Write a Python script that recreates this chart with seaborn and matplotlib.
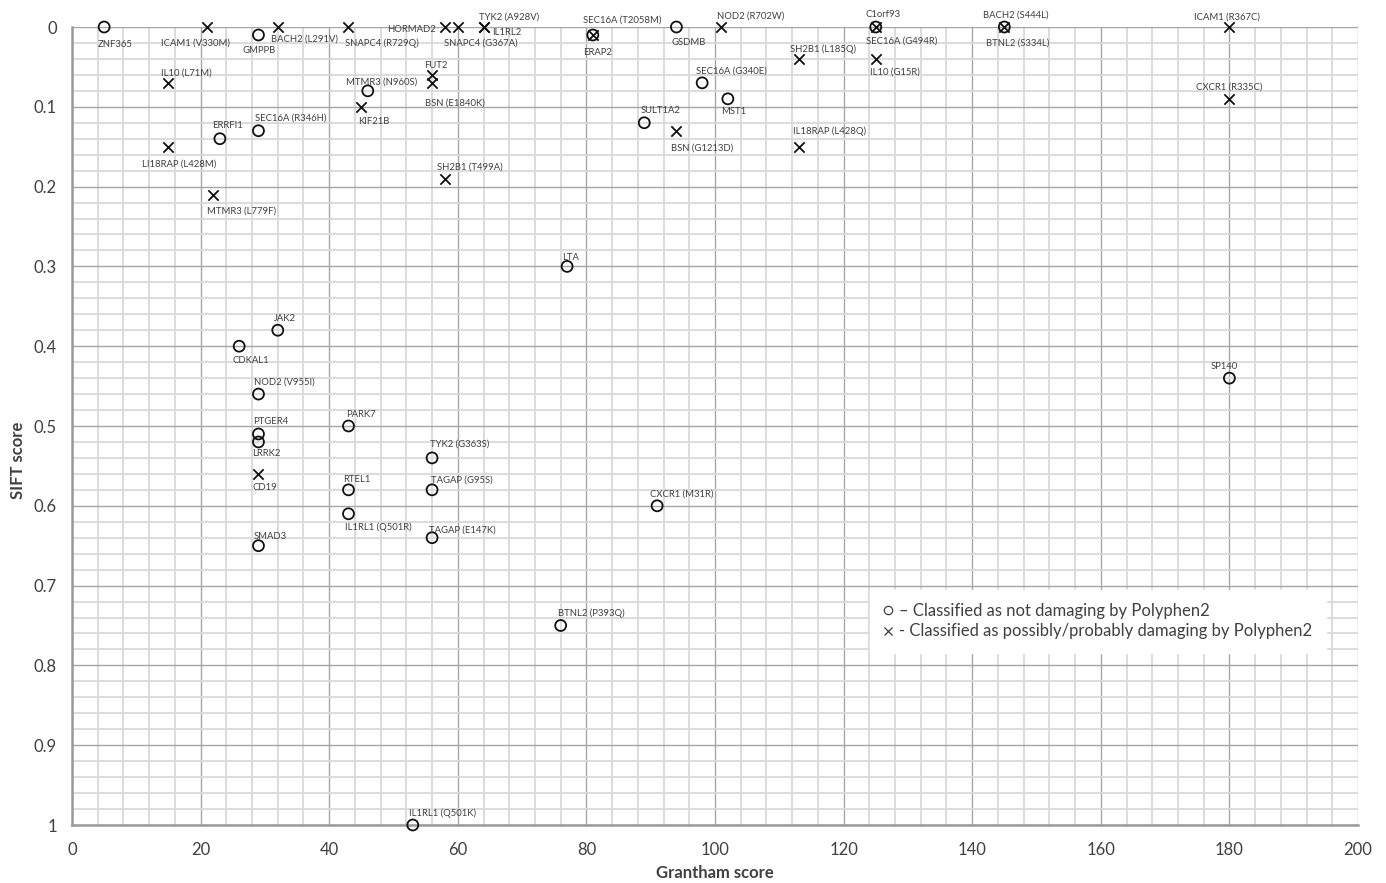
import matplotlib
matplotlib.use("Agg")
import matplotlib.pyplot as plt
import seaborn as sns
import pandas as pd
from matplotlib.ticker import MultipleLocator
from matplotlib.lines import Line2D

# ---------------- data ----------------
# Classified as not damaging by Polyphen2 (circles)
circ_labels = ["ZNF365", "GMPPB", "SEC16A (T2058M)", "GSDMB", "C1orf93", "BTNL2 (S334L)",
               "MTMR3 (N960S)", "ERRFI1", "SEC16A (R346H)", "SEC16A (G340E)", "MST1", "SULT1A2",
               "LTA", "JAK2", "CDKAL1", "NOD2 (V955I)", "PTGER4", "LRRK2", "PARK7", "TYK2 (G363S)",
               "RTEL1", "TAGAP (G95S)", "CXCR1 (M31R)", "IL1RL1 (Q501R)", "TAGAP (E147K)", "SMAD3",
               "BTNL2 (P393Q)", "IL1RL1 (Q501K)", "SP140"]
circ_grantham = [5, 29, 81, 94, 125, 145,
                 46, 23, 29, 98, 102, 89,
                 77, 32, 26, 29, 29, 29, 43, 56,
                 43, 56, 91, 43, 56, 29,
                 76, 53, 180]
circ_sift = [0.00, 0.01, 0.01, 0.00, 0.00, 0.00,
             0.08, 0.14, 0.13, 0.07, 0.09, 0.12,
             0.30, 0.38, 0.40, 0.46, 0.51, 0.52, 0.50, 0.54,
             0.58, 0.58, 0.60, 0.61, 0.64, 0.65,
             0.75, 1.00, 0.44]

# Classified as possibly/probably damaging by Polyphen2 (crosses)
x_labels = ["ICAM1 (V330M)", "BACH2 (L291V)", "SNAPC4 (R729Q)", "HORMAD2", "SNAPC4 (G367A)",
            "TYK2 (A928V)", "IL1RL2", "ERAP2", "NOD2 (R702W)", "SEC16A (G494R)", "BACH2 (S444L)",
            "ICAM1 (R367C)", "IL10 (L71M)", "FUT2", "BSN (E1840K)", "KIF21B", "LI18RAP (L428M)",
            "MTMR3 (L779F)", "SH2B1 (T499A)", "BSN (G1213D)", "SH2B1 (L185Q)", "IL10 (G15R)",
            "IL18RAP (L428Q)", "CXCR1 (R335C)", "CD19"]
x_grantham = [21, 32, 43, 58, 60,
              64, 64, 81, 101, 125, 145,
              180, 15, 56, 56, 45, 15,
              22, 58, 94, 113, 125,
              113, 180, 29]
x_sift = [0.00, 0.00, 0.00, 0.00, 0.00,
          0.00, 0.00, 0.01, 0.00, 0.00, 0.00,
          0.00, 0.07, 0.06, 0.07, 0.10, 0.15,
          0.21, 0.19, 0.13, 0.04, 0.04,
          0.15, 0.09, 0.56]

legend_texts = ["\u2013 Classified as not damaging by Polyphen2",
                "- Classified as possibly/probably damaging by Polyphen2"]

# label placement (pixel offsets: dx right, dy down)
label_offsets = {
    "ZNF365": (-6, 17), "ICAM1 (V330M)": (-46, 16), "GMPPB": (-16, 16), "BACH2 (L291V)": (-7, 12),
    "SNAPC4 (R729Q)": (-3, 16), "HORMAD2": (-9, 2), "SNAPC4 (G367A)": (-14, 16),
    "TYK2 (A928V)": (-5, -10), "IL1RL2": (9, 5), "IL10 (L71M)": (-7, -10),
    "MTMR3 (N960S)": (-22, -9), "FUT2": (-8, -9), "BSN (E1840K)": (-7, 20), "KIF21B": (-3, 15),
    "ERRFI1": (-8, -13), "SEC16A (R346H)": (-3, -13), "LI18RAP (L428M)": (-26, 17),
    "MTMR3 (L779F)": (-6, 16), "SH2B1 (T499A)": (-8, -12), "SEC16A (T2058M)": (-10, -15),
    "ERAP2": (-10, 18), "GSDMB": (-5, 15), "NOD2 (R702W)": (-4, -11), "SEC16A (G340E)": (-6, -12),
    "MST1": (-7, 13), "SULT1A2": (-4, -12), "BSN (G1213D)": (-5, 17), "SH2B1 (L185Q)": (-9, -10),
    "IL18RAP (L428Q)": (-6, -15), "C1orf93": (-10, -13), "SEC16A (G494R)": (-10, 14),
    "IL10 (G15R)": (-6, 13), "BACH2 (S444L)": (-21, -12), "BTNL2 (S334L)": (-18, 16),
    "ICAM1 (R367C)": (-35, -10), "CXCR1 (R335C)": (-33, -12), "LTA": (-5, -9), "JAK2": (-4, -12),
    "CDKAL1": (-7, 14), "NOD2 (V955I)": (-4, -12), "PTGER4": (-5, -12), "LRRK2": (-6, 12),
    "CD19": (-6, 14), "SMAD3": (-5, -9), "PARK7": (-2, -12), "TYK2 (G363S)": (-2, -14),
    "RTEL1": (-5, -10), "TAGAP (G95S)": (-1, -10), "IL1RL1 (Q501R)": (-3, 13),
    "TAGAP (E147K)": (-3, -8), "CXCR1 (M31R)": (-7, -12), "BTNL2 (P393Q)": (-3, -12),
    "IL1RL1 (Q501K)": (-4, -12), "SP140": (-19, -12),
}
right_aligned = {"HORMAD2"}

# ---------------- style ----------------
sns.set_theme(style="white")
plt.rcParams["font.family"] = ["Lato", "DejaVu Sans"]
TXT = "#404040"

df_c = pd.DataFrame({"Grantham": circ_grantham, "SIFT": circ_sift, "label": circ_labels})
df_x = pd.DataFrame({"Grantham": x_grantham, "SIFT": x_sift, "label": x_labels})

fig = plt.figure(figsize=(13.86, 8.83), dpi=100)
ax = fig.add_axes([72 / 1386, 1 - 825 / 883, (1358 - 72) / 1386, (825 - 27) / 883])

sns.scatterplot(data=df_c, x="Grantham", y="SIFT", ax=ax, marker="o", s=62,
                facecolor="none", edgecolor="#111111", linewidth=1.3, clip_on=False, zorder=5)
sns.scatterplot(data=df_x, x="Grantham", y="SIFT", ax=ax, marker="x", s=55,
                color="#111111", linewidth=1.3, clip_on=False, zorder=5)

ax.set_xlim(0, 200)
ax.set_ylim(1, 0)
ax.xaxis.set_major_locator(MultipleLocator(20))
ax.xaxis.set_minor_locator(MultipleLocator(4))
ax.yaxis.set_major_locator(MultipleLocator(0.1))
ax.yaxis.set_minor_locator(MultipleLocator(0.02))
ax.set_yticks([0, 0.1, 0.2, 0.3, 0.4, 0.5, 0.6, 0.7, 0.8, 0.9, 1.0])
ax.set_yticklabels(["0", "0.1", "0.2", "0.3", "0.4", "0.5", "0.6", "0.7", "0.8", "0.9", "1"])

ax.set_axisbelow(True)
ax.grid(which="minor", color="#d9d9d9", linewidth=1.3)
ax.grid(which="major", color="#a6a6a6", linewidth=1.0)

for side in ["top", "right"]:
    ax.spines[side].set_visible(False)
for side in ["left", "bottom"]:
    ax.spines[side].set_visible(True)
    ax.spines[side].set_color("#9a9a9a")
    ax.spines[side].set_linewidth(1.8)

ax.tick_params(which="major", direction="out", length=5, width=1, color="#9a9a9a",
               labelsize=12, labelcolor=TXT, pad=6)
ax.tick_params(axis="x", which="major", pad=7)
ax.tick_params(which="minor", length=0)

ax.set_xlabel("Grantham score", fontsize=12, fontweight="bold", color=TXT)
ax.set_ylabel("SIFT score", fontsize=12, fontweight="bold", color=TXT)
ax.xaxis.set_label_coords((715 - 72) / 1286, (825 - 873) / 798)
ax.xaxis.label.set_va("center")
ax.yaxis.set_label_coords((18 - 72) / 1286, 1 - (460 - 27) / 798)
ax.yaxis.label.set_va("center")

# point labels
for labels, gs, ss in [(circ_labels, circ_grantham, circ_sift), (x_labels, x_grantham, x_sift)]:
    for lab, g, s in zip(labels, gs, ss):
        dx, dy = label_offsets[lab]
        ax.annotate(lab, (g, s), xytext=(dx, -dy), textcoords="offset pixels",
                    ha="right" if lab in right_aligned else "left", va="center",
                    fontsize=6.8, color=TXT, zorder=6, annotation_clip=False)

# legend
handles = [Line2D([], [], linestyle="none", marker="o", markersize=6, markerfacecolor="none",
                  markeredgecolor=TXT, markeredgewidth=0.9),
           Line2D([], [], linestyle="none", marker="x", markersize=5.5, color=TXT,
                  markeredgewidth=0.9)]
leg = ax.legend(handles, legend_texts, loc="upper left", bbox_to_anchor=(0.6205, 0.2945),
                frameon=True, fontsize=12, handlelength=0.6, handletextpad=0.35,
                borderpad=0.8, labelspacing=0.25, borderaxespad=0, fancybox=False)
leg.get_frame().set_facecolor("white")
leg.get_frame().set_edgecolor("white")
leg.get_frame().set_alpha(1)
for t in leg.get_texts():
    t.set_color(TXT)

fig.savefig("out.png", dpi=100)
